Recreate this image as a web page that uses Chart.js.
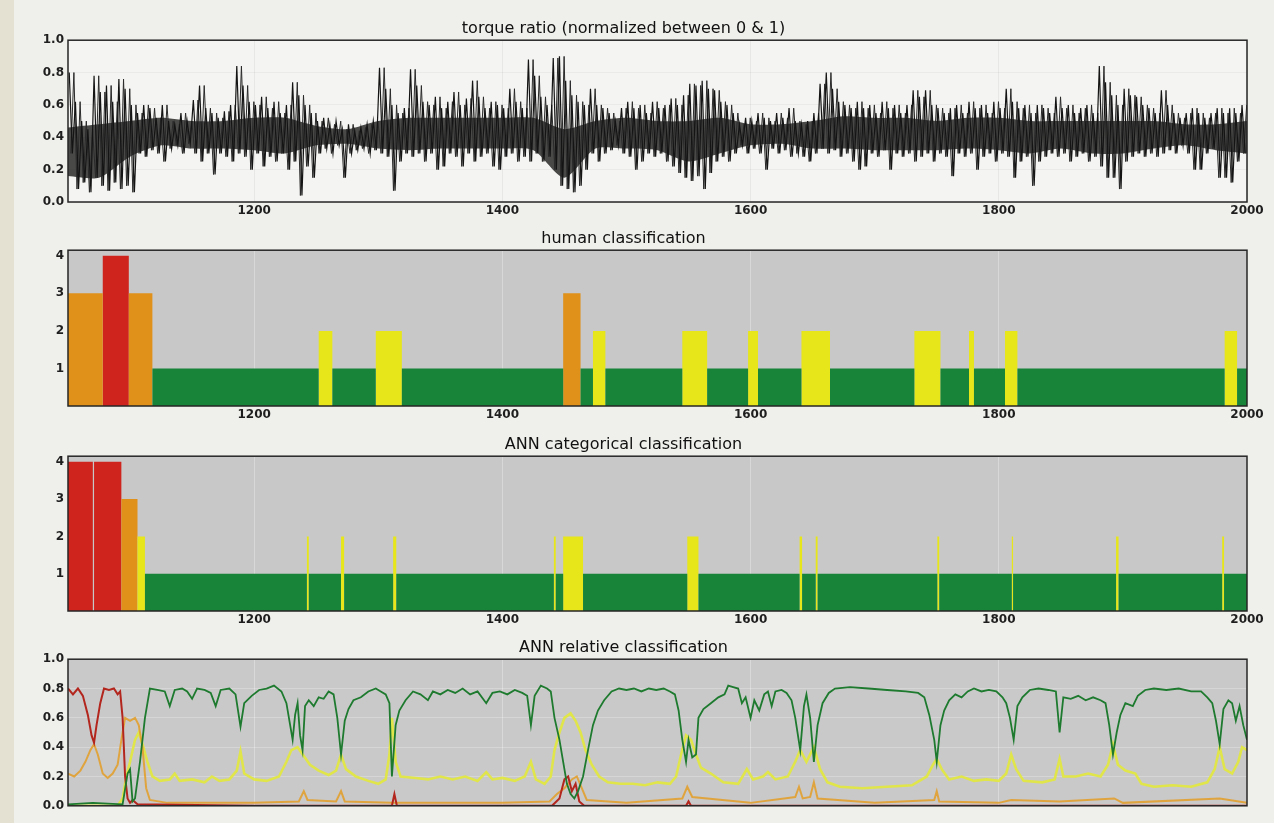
<!DOCTYPE html>
<html>
<head>
<meta charset="utf-8">
<script src="https://cdn.jsdelivr.net/npm/chart.js@4.4.1/dist/chart.umd.min.js"></script>
<style>
  html, body { margin: 0; padding: 0; }
  body { width: 1274px; height: 823px; background: #efefeb; position: relative; overflow: hidden; }
  #strip { position: absolute; left: 0; top: 0; width: 14px; height: 823px; background: #e4e0d2; }
  canvas { position: absolute; left: 0; }
</style>
</head>
<body>
<div id="strip"></div>
<canvas id="torque" width="1274" height="205" style="top:15px"></canvas>
<canvas id="human" width="1274" height="199" style="top:225px"></canvas>
<canvas id="annCat" width="1274" height="198" style="top:431px"></canvas>
<canvas id="annRel" width="1274" height="183" style="top:634px"></canvas>
<script>
// x range and ticks shared by every panel
const xMin = 1050;
const xMax = 2000;
const xTicks = [1200, 1400, 1600, 1800, 2000];
const ratioTicks = [0, 0.2, 0.4, 0.6, 0.8, 1.0];
const classTicks = [1, 2, 3, 4];

// torque ratio, read per 5-sample bin starting at 1050: top and bottom of the trace
const torqueBin = 5;
const torqueHigh = [
  0.80,0.62,0.50,0.45,0.78,0.68,0.72,0.62,0.76,0.70,
  0.60,0.55,0.60,0.58,0.52,0.60,0.50,0.48,0.55,0.50,
  0.63,0.72,0.58,0.55,0.52,0.56,0.60,0.84,0.72,0.62,
  0.60,0.65,0.58,0.62,0.55,0.60,0.74,0.66,0.60,0.55,
  0.50,0.52,0.48,0.50,0.45,0.48,0.44,0.46,0.48,0.50,
  0.83,0.70,0.60,0.55,0.58,0.82,0.72,0.62,0.60,0.65,
  0.58,0.62,0.68,0.60,0.64,0.75,0.65,0.58,0.62,0.60,
  0.58,0.70,0.62,0.58,0.88,0.78,0.65,0.60,0.89,0.90,
  0.75,0.66,0.62,0.60,0.70,0.60,0.58,0.55,0.50,0.58,
  0.62,0.58,0.60,0.55,0.62,0.58,0.60,0.64,0.60,0.66,
  0.73,0.72,0.75,0.70,0.69,0.62,0.60,0.55,0.48,0.52,
  0.50,0.55,0.52,0.50,0.55,0.52,0.58,0.50,0.48,0.50,
  0.55,0.73,0.80,0.70,0.62,0.60,0.58,0.62,0.58,0.60,
  0.55,0.62,0.58,0.60,0.55,0.60,0.69,0.65,0.69,0.60,
  0.58,0.55,0.58,0.60,0.55,0.62,0.58,0.60,0.55,0.62,
  0.58,0.70,0.62,0.58,0.60,0.55,0.60,0.58,0.55,0.65,
  0.58,0.60,0.55,0.58,0.60,0.55,0.84,0.74,0.66,0.60,
  0.70,0.66,0.65,0.60,0.58,0.55,0.69,0.60,0.55,0.52,
  0.55,0.58,0.55,0.52,0.55,0.58,0.55,0.58,0.55,0.60
];
const torqueLow = [
  0.30,0.08,0.12,0.06,0.15,0.10,0.07,0.12,0.08,0.10,
  0.06,0.30,0.28,0.32,0.30,0.25,0.33,0.35,0.30,0.36,
  0.30,0.25,0.30,0.17,0.30,0.28,0.25,0.30,0.28,0.20,
  0.30,0.22,0.28,0.25,0.30,0.20,0.25,0.04,0.22,0.15,
  0.30,0.33,0.30,0.35,0.15,0.30,0.32,0.33,0.30,0.32,
  0.30,0.28,0.07,0.25,0.30,0.28,0.30,0.25,0.30,0.20,
  0.22,0.30,0.28,0.22,0.30,0.25,0.28,0.30,0.22,0.20,
  0.28,0.30,0.25,0.28,0.25,0.30,0.25,0.28,0.20,0.10,
  0.08,0.06,0.10,0.20,0.30,0.25,0.30,0.32,0.35,0.30,
  0.28,0.20,0.25,0.30,0.28,0.30,0.25,0.22,0.18,0.15,
  0.13,0.16,0.08,0.18,0.25,0.28,0.25,0.30,0.35,0.30,
  0.33,0.30,0.20,0.33,0.30,0.32,0.28,0.30,0.28,0.25,
  0.30,0.33,0.30,0.32,0.28,0.30,0.25,0.20,0.22,0.30,
  0.28,0.32,0.20,0.30,0.28,0.30,0.25,0.28,0.30,0.25,
  0.30,0.28,0.16,0.30,0.28,0.30,0.20,0.28,0.30,0.25,
  0.30,0.28,0.15,0.25,0.28,0.10,0.25,0.28,0.30,0.28,
  0.30,0.25,0.28,0.30,0.25,0.28,0.22,0.15,0.15,0.08,
  0.25,0.28,0.30,0.28,0.30,0.28,0.30,0.32,0.30,0.35,
  0.30,0.20,0.20,0.30,0.33,0.15,0.15,0.12,0.25,0.30
];
// solid dark core of the trace, every 25 samples from 1050 to 2000
const coreStep = 25;
const torqueCoreTop = [0.46,0.48,0.50,0.52,0.50,0.50,0.52,0.52,0.47,0.45,
  0.50,0.52,0.52,0.52,0.52,0.52,0.45,0.50,0.52,0.50,
  0.50,0.52,0.48,0.48,0.50,0.53,0.52,0.52,0.50,0.52,
  0.52,0.50,0.50,0.50,0.50,0.50,0.48,0.48,0.50];
const torqueCoreBottom = [0.16,0.15,0.28,0.35,0.33,0.33,0.32,0.30,0.35,0.36,
  0.33,0.32,0.33,0.33,0.33,0.32,0.15,0.33,0.33,0.32,
  0.25,0.30,0.35,0.36,0.33,0.33,0.32,0.32,0.32,0.33,
  0.32,0.30,0.33,0.30,0.30,0.33,0.35,0.32,0.30];

// class segments: start sample and class (0 none, 1 green, 2 yellow, 3 orange, 4 red)
const humanStart = [1050, 1078, 1099, 1118, 1252, 1263, 1298, 1319, 1449, 1463, 1473, 1483,
  1545, 1565, 1598, 1606, 1641, 1664, 1732, 1753, 1776, 1780, 1805, 1815, 1982, 1992];
const humanClass = [3, 4, 3, 1, 2, 1, 2, 1, 3, 1, 2, 1,
  2, 1, 2, 1, 2, 1, 2, 1, 2, 1, 2, 1, 2, 1];

const annStart = [1050, 1070, 1071, 1093, 1106, 1112, 1242.5, 1244, 1270, 1272.5, 1312, 1314.5,
  1441.5, 1443, 1449, 1465, 1549, 1558, 1639.5, 1641.5, 1652.5, 1654, 1750.5, 1752,
  1810.5, 1811.5, 1894.5, 1896.5, 1980, 1981.5];
const annClass = [4, 0, 4, 3, 2, 1, 2, 1, 2, 1, 2, 1,
  2, 1, 2, 1, 2, 1, 2, 1, 2, 1, 2, 1,
  2, 1, 2, 1, 2, 1];

// ANN relative classification, [sample, share]
const relGreen = [[1050,0.01],[1070,0.02],[1094,0.01],[1098,0.22],[1100,0.25],[1102,0.03],[1104,0.05],[1108,0.3],
  [1112,0.6],[1116,0.8],[1122,0.79],[1128,0.78],[1132,0.68],[1136,0.79],[1142,0.8],[1146,0.78],[1150,0.73],
  [1154,0.8],[1160,0.79],[1165,0.77],[1169,0.68],[1173,0.79],[1180,0.8],[1185,0.76],[1189,0.54],[1192,0.7],
  [1198,0.75],[1204,0.79],[1210,0.8],[1216,0.82],[1222,0.78],[1226,0.7],[1229,0.55],[1231,0.45],[1233,0.62],
  [1235,0.7],[1237,0.48],[1239,0.38],[1241,0.68],[1244,0.72],[1248,0.68],[1252,0.74],[1256,0.73],[1260,0.78],
  [1264,0.76],[1267,0.6],[1270,0.35],[1273,0.58],[1276,0.66],[1280,0.72],[1286,0.74],[1292,0.78],[1298,0.8],
  [1302,0.78],[1306,0.76],[1309,0.7],[1311,0.2],[1314,0.55],[1317,0.65],[1322,0.72],[1328,0.78],[1334,0.76],
  [1340,0.72],[1344,0.78],[1350,0.76],[1356,0.79],[1362,0.77],[1368,0.8],[1374,0.76],[1380,0.78],[1387,0.7],
  [1392,0.77],[1398,0.78],[1404,0.76],[1410,0.79],[1416,0.77],[1420,0.75],[1423,0.55],[1426,0.75],[1431,0.82],
  [1436,0.8],[1439,0.78],[1442,0.6],[1446,0.45],[1449,0.3],[1452,0.15],[1455,0.08],[1458,0.05],[1461,0.1],
  [1465,0.2],[1469,0.38],[1473,0.55],[1477,0.65],[1482,0.72],[1488,0.78],[1494,0.8],[1500,0.79],[1506,0.8],
  [1512,0.78],[1518,0.8],[1524,0.79],[1530,0.8],[1535,0.78],[1539,0.76],[1542,0.65],[1545,0.45],[1548,0.3],
  [1550,0.45],[1553,0.33],[1556,0.35],[1558,0.6],[1562,0.66],[1568,0.7],[1574,0.74],[1579,0.76],[1582,0.82],
  [1586,0.81],[1590,0.8],[1593,0.7],[1596,0.74],[1600,0.6],[1603,0.72],[1607,0.65],[1611,0.76],[1614,0.78],
  [1617,0.68],[1620,0.78],[1625,0.79],[1629,0.77],[1633,0.72],[1636,0.6],[1640,0.38],[1643,0.68],[1645,0.76],
  [1648,0.6],[1651,0.3],[1654,0.55],[1658,0.7],[1663,0.77],[1668,0.8],[1680,0.81],[1695,0.8],[1710,0.79],
  [1725,0.78],[1735,0.77],[1740,0.74],[1744,0.62],[1748,0.45],[1750,0.3],[1753,0.55],[1756,0.65],[1760,0.72],
  [1765,0.76],[1770,0.74],[1775,0.78],[1780,0.8],[1786,0.78],[1792,0.79],[1798,0.78],[1803,0.74],[1806,0.7],
  [1809,0.6],[1812,0.45],[1815,0.68],[1819,0.74],[1825,0.79],[1832,0.8],[1840,0.79],[1846,0.78],[1849,0.5],
  [1852,0.74],[1858,0.73],[1864,0.75],[1870,0.72],[1876,0.74],[1882,0.72],[1886,0.7],[1889,0.55],[1892,0.35],
  [1895,0.5],[1898,0.62],[1902,0.7],[1908,0.68],[1912,0.75],[1918,0.79],[1925,0.8],[1935,0.79],[1945,0.8],
  [1955,0.78],[1963,0.78],[1968,0.74],[1972,0.7],[1975,0.58],[1978,0.42],[1981,0.66],[1985,0.72],[1988,0.7],
  [1991,0.58],[1994,0.68],[1997,0.55],[2000,0.45]];
const relYellow = [[1050,0.0],[1090,0.0],[1094,0.05],[1097,0.2],[1100,0.3],[1104,0.45],[1107,0.5],[1110,0.42],
  [1114,0.3],[1118,0.2],[1124,0.17],[1132,0.18],[1136,0.22],[1140,0.17],[1150,0.18],[1160,0.16],[1166,0.2],
  [1172,0.17],[1180,0.18],[1186,0.24],[1189,0.37],[1192,0.22],[1200,0.18],[1210,0.17],[1220,0.2],[1226,0.3],
  [1230,0.38],[1235,0.4],[1240,0.34],[1245,0.28],[1252,0.24],[1260,0.21],[1266,0.24],[1270,0.35],[1274,0.25],
  [1282,0.2],[1292,0.17],[1300,0.15],[1306,0.18],[1309,0.35],[1311,0.6],[1314,0.3],[1318,0.2],[1330,0.19],
  [1340,0.18],[1350,0.2],[1360,0.18],[1370,0.2],[1380,0.17],[1387,0.23],[1392,0.18],[1400,0.19],[1410,0.17],
  [1418,0.2],[1423,0.3],[1427,0.18],[1434,0.15],[1439,0.2],[1442,0.38],[1446,0.5],[1450,0.6],[1455,0.63],
  [1459,0.58],[1463,0.5],[1467,0.38],[1472,0.28],[1478,0.2],[1485,0.16],[1495,0.15],[1505,0.15],[1515,0.14],
  [1525,0.16],[1535,0.15],[1540,0.2],[1544,0.35],[1548,0.48],[1552,0.45],[1556,0.35],[1560,0.26],[1568,0.22],
  [1578,0.16],[1590,0.15],[1597,0.25],[1602,0.18],[1610,0.2],[1614,0.23],[1620,0.18],[1630,0.2],[1636,0.3],
  [1640,0.38],[1645,0.3],[1651,0.4],[1656,0.25],[1662,0.16],[1672,0.13],[1690,0.12],[1710,0.13],[1730,0.14],
  [1742,0.2],[1747,0.28],[1750,0.32],[1754,0.25],[1760,0.18],[1770,0.2],[1780,0.17],[1790,0.18],[1800,0.17],
  [1806,0.22],[1810,0.35],[1814,0.25],[1820,0.17],[1835,0.16],[1845,0.18],[1849,0.32],[1852,0.2],[1862,0.2],
  [1872,0.22],[1882,0.2],[1888,0.28],[1892,0.42],[1896,0.28],[1902,0.24],[1910,0.22],[1915,0.15],[1925,0.13],
  [1940,0.14],[1955,0.13],[1968,0.16],[1974,0.25],[1978,0.4],[1982,0.25],[1988,0.22],[1993,0.3],[1996,0.4],
  [2000,0.38]];
const relOrange = [[1050,0.22],[1055,0.2],[1060,0.24],[1064,0.3],[1068,0.38],[1071,0.42],[1074,0.35],[1078,0.22],
  [1082,0.19],[1086,0.22],[1090,0.28],[1093,0.45],[1096,0.6],[1100,0.58],[1104,0.6],[1107,0.55],[1110,0.4],
  [1113,0.12],[1116,0.04],[1130,0.02],[1200,0.02],[1236,0.03],[1240,0.1],[1243,0.04],[1266,0.03],[1270,0.1],
  [1273,0.03],[1311,0.02],[1400,0.02],[1438,0.03],[1444,0.08],[1450,0.12],[1456,0.18],[1460,0.2],[1464,0.12],
  [1468,0.04],[1500,0.02],[1545,0.05],[1549,0.13],[1553,0.06],[1600,0.02],[1636,0.06],[1639,0.13],[1642,0.05],
  [1648,0.06],[1651,0.16],[1654,0.05],[1700,0.02],[1748,0.04],[1750,0.1],[1752,0.03],[1800,0.02],[1810,0.04],
  [1849,0.03],[1893,0.05],[1900,0.02],[1978,0.05],[2000,0.02]];
const relRed = [[1050,0.8],[1054,0.76],[1058,0.8],[1062,0.75],[1066,0.62],[1069,0.48],[1071,0.43],[1073,0.55],
  [1076,0.7],[1079,0.8],[1083,0.79],[1087,0.8],[1090,0.76],[1092,0.78],[1094,0.6],[1096,0.2],[1098,0.05],
  [1100,0.02],[1102,0.04],[1106,0.01],[1200,0.0],[1311,0.0],[1313,0.08],[1315,0.0],[1440,0.0],[1446,0.05],
  [1450,0.18],[1453,0.2],[1456,0.1],[1459,0.15],[1462,0.03],[1466,0.0],[1548,0.0],[1550,0.03],[1552,0.0],
  [2000,0.0]];

const classColors = { 1: "#17843a", 2: "#e6e61a", 3: "#e0911a", 4: "#cf241d" };

Chart.defaults.font.family = "'DejaVu Sans', sans-serif";
Chart.defaults.color = "#1e1e1e";
Chart.defaults.animation = false;

const framePlugin = {
  id: "frame",
  beforeDraw(chart, args, opts) {
    const a = chart.chartArea;
    const ctx = chart.ctx;
    ctx.save();
    ctx.fillStyle = opts.bg;
    ctx.fillRect(a.left, a.top, a.right - a.left, a.bottom - a.top);
    ctx.restore();
  },
  afterDatasetsDraw(chart) {
    const a = chart.chartArea;
    const ctx = chart.ctx;
    ctx.save();
    ctx.strokeStyle = "#262626";
    ctx.lineWidth = 1.5;
    ctx.strokeRect(a.left, a.top, a.right - a.left, a.bottom - a.top);
    ctx.restore();
  }
};

function xScale(showLabels, gridColor) {
  return {
    type: "linear",
    min: xMin,
    max: xMax,
    afterBuildTicks: s => { s.ticks = xTicks.map(v => ({ value: v })); },
    afterFit: s => { s.height = showLabels ? 18 : 2; },
    ticks: { display: showLabels, padding: 2, maxRotation: 0, autoSkip: false,
      font: { size: 12, weight: "bold" }, callback: v => String(v) },
    grid: { color: gridColor, drawTicks: false },
    border: { display: false }
  };
}

function yScale(max, ticks, digits, gridColor) {
  return {
    min: 0,
    max: max,
    afterBuildTicks: s => { s.ticks = ticks.map(v => ({ value: v })); },
    afterFit: s => { s.width = 68; },
    ticks: { padding: 4, font: { size: 12, weight: "bold" },
      callback: v => v.toFixed(digits) },
    grid: { color: gridColor, drawTicks: false, display: gridColor !== null },
    border: { display: false }
  };
}

function titleOpts(text) {
  return { display: true, text: text, color: "#111",
    font: { size: 16, weight: "normal" }, padding: { top: 4, bottom: 2 } };
}

function baseOptions(title, bg, x, y) {
  return {
    responsive: false,
    devicePixelRatio: 1,
    layout: { padding: { left: 0, right: 27, top: 0, bottom: 0 } },
    plugins: { legend: { display: false }, tooltip: { enabled: false },
      title: titleOpts(title), frame: { bg: bg } },
    scales: { x: x, y: y }
  };
}

// rectangles for one class: value held from each start until the next one
function classDataset(starts, classes, cls) {
  const pts = [];
  let prev = 0;
  starts.forEach((s, i) => {
    const v = classes[i] === cls ? cls : 0;
    pts.push({ x: s, y: prev }, { x: s, y: v });
    prev = v;
  });
  pts.push({ x: xMax, y: prev }, { x: xMax, y: 0 });
  return {
    data: pts, fill: "origin", backgroundColor: classColors[cls],
    borderColor: "transparent", borderWidth: 0, pointRadius: 0, tension: 0
  };
}

// torque trace: top and bottom of each bin, crossed twice so the band reads dense
const torqueDown = [];
const torqueUp = [];
torqueHigh.forEach((h, i) => {
  const x0 = xMin + i * torqueBin;
  torqueDown.push({ x: x0 + torqueBin * 0.2, y: h }, { x: x0 + torqueBin * 0.7, y: torqueLow[i] });
  torqueUp.push({ x: x0 + torqueBin * 0.45, y: torqueLow[i] }, { x: x0 + torqueBin * 0.95, y: h });
});
const coreTopPts = torqueCoreTop.map((v, i) => ({ x: xMin + i * coreStep, y: v }));
const coreBottomPts = torqueCoreBottom.map((v, i) => ({ x: xMin + i * coreStep, y: v }));

const traceLine = { borderColor: "#141414", borderWidth: 1.2, pointRadius: 0, tension: 0, fill: false };

new Chart(document.getElementById("torque"), {
  type: "line",
  data: { datasets: [
    Object.assign({ data: torqueDown }, traceLine),
    Object.assign({ data: torqueUp }, traceLine, { borderColor: "#2a2a2a", borderWidth: 1 }),
    { data: coreTopPts, fill: "+1", backgroundColor: "rgba(24,24,24,0.78)", borderColor: "transparent",
      borderWidth: 0, pointRadius: 0, tension: 0.25 },
    { data: coreBottomPts, fill: false, borderColor: "transparent", borderWidth: 0, pointRadius: 0, tension: 0.25 }
  ] },
  options: baseOptions("torque ratio (normalized between 0 & 1)", "#f4f4f2",
    xScale(true, "rgba(0,0,0,0.05)"), yScale(1.0, ratioTicks, 1, "rgba(0,0,0,0.04)")),
  plugins: [framePlugin]
});

new Chart(document.getElementById("human"), {
  type: "line",
  data: { datasets: [1, 2, 3, 4].map(c => classDataset(humanStart, humanClass, c)) },
  options: baseOptions("human classification", "#c8c8c8",
    xScale(true, "rgba(255,255,255,0.3)"), yScale(4.15, classTicks, 0, null)),
  plugins: [framePlugin]
});

new Chart(document.getElementById("annCat"), {
  type: "line",
  data: { datasets: [1, 2, 3, 4].map(c => classDataset(annStart, annClass, c)) },
  options: baseOptions("ANN categorical classification", "#c8c8c8",
    xScale(true, "rgba(255,255,255,0.3)"), yScale(4.15, classTicks, 0, null)),
  plugins: [framePlugin]
});

function relLine(points, color, width) {
  return { data: points.map(p => ({ x: p[0], y: p[1] })), borderColor: color,
    borderWidth: width, pointRadius: 0, tension: 0, fill: false };
}

new Chart(document.getElementById("annRel"), {
  type: "line",
  data: { datasets: [
    relLine(relGreen, "#1d7a2e", 1.8),
    relLine(relRed, "#b3261e", 2),
    relLine(relOrange, "rgba(226,160,48,0.9)", 2),
    relLine(relYellow, "rgba(226,232,60,0.9)", 2.6)
  ] },
  options: baseOptions("ANN relative classification", "#c9c9c9",
    xScale(false, "rgba(255,255,255,0.3)"), yScale(1.0, ratioTicks, 1, "rgba(255,255,255,0.25)")),
  plugins: [framePlugin]
});
</script>
</body>
</html>
